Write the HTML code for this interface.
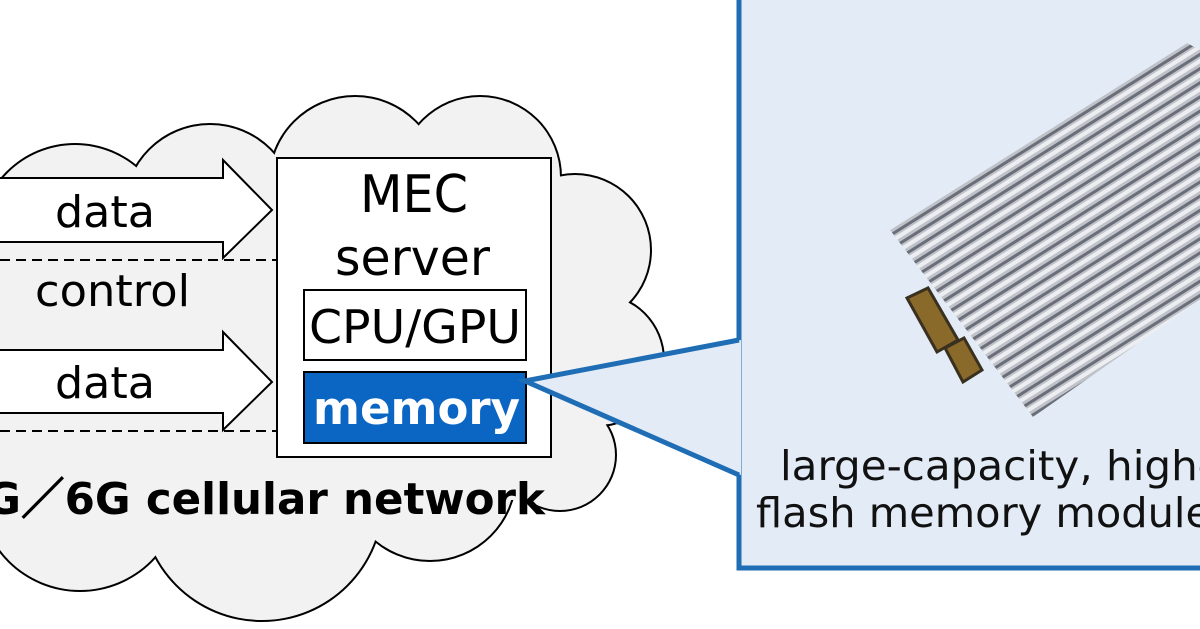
<!DOCTYPE html>
<html><head><meta charset="utf-8"><style>
html,body{margin:0;padding:0;background:#fff;width:1200px;height:629px;overflow:hidden}
svg{display:block}
text{font-family:"DejaVu Sans","Liberation Sans",sans-serif}
</style></head><body>
<svg width="1200" height="629" viewBox="0 0 1200 629" xmlns="http://www.w3.org/2000/svg">
<defs>
<pattern id="st" width="12" height="12" patternUnits="userSpaceOnUse" patternTransform="rotate(-32.2)">
<rect width="12" height="12" fill="#bfc2c9"/>
<rect y="0" width="12" height="3" fill="#6a6e78"/>
<rect y="5" width="12" height="4" fill="#eceef2"/>
</pattern>
<clipPath id="mc"><polygon points="890,230 1187,43 1200,50 1200,300 1033,417"/></clipPath>
</defs>
<g fill="#000">
<circle cx="75" cy="240" r="97"/><circle cx="210" cy="210" r="87"/><circle cx="355" cy="182" r="87"/>
<circle cx="480" cy="177" r="82"/><circle cx="575" cy="250" r="77"/><circle cx="598" cy="360" r="67"/>
<circle cx="560" cy="455" r="57"/><circle cx="430" cy="475" r="87"/><circle cx="262" cy="500" r="122"/>
<circle cx="80" cy="490" r="102"/><circle cx="0" cy="380" r="110"/>
</g>
<g fill="#f2f2f2">
<circle cx="75" cy="240" r="95"/><circle cx="210" cy="210" r="85"/><circle cx="355" cy="182" r="85"/>
<circle cx="480" cy="177" r="80"/><circle cx="575" cy="250" r="75"/><circle cx="598" cy="360" r="65"/>
<circle cx="560" cy="455" r="55"/><circle cx="430" cy="475" r="85"/><circle cx="262" cy="500" r="120"/>
<circle cx="80" cy="490" r="100"/><circle cx="0" cy="380" r="108"/>
<rect x="0" y="200" width="560" height="300"/>
</g>
<polygon points="-5,178 223,178 223,160 272,210 223,258 223,242 -5,242" fill="#fff" stroke="#000" stroke-width="2"/>
<polygon points="-5,350 223,350 223,332 272,382 223,430 223,413 -5,413" fill="#fff" stroke="#000" stroke-width="2"/>
<line x1="0" y1="260" x2="277" y2="260" stroke="#000" stroke-width="2" stroke-dasharray="10,6"/>
<line x1="0" y1="431" x2="277" y2="431" stroke="#000" stroke-width="2" stroke-dasharray="10,6"/>
<text x="55" y="227" font-size="44" textLength="100" lengthAdjust="spacingAndGlyphs">data</text>
<text x="35" y="306" font-size="44" textLength="155" lengthAdjust="spacingAndGlyphs">control</text>
<text x="55" y="398" font-size="44" textLength="100" lengthAdjust="spacingAndGlyphs">data</text>
<rect x="277" y="158" width="274" height="299" fill="#fff" stroke="#000" stroke-width="2"/>
<text x="360" y="212" font-size="52" textLength="108" lengthAdjust="spacingAndGlyphs">MEC</text>
<text x="335" y="275" font-size="50" textLength="155" lengthAdjust="spacingAndGlyphs">server</text>
<rect x="304" y="290" width="222" height="70" fill="#fff" stroke="#000" stroke-width="2"/>
<text x="309" y="343" font-size="46" textLength="212" lengthAdjust="spacingAndGlyphs">CPU/GPU</text>
<rect x="304" y="372" width="222" height="71" fill="#0a66c2" stroke="#000" stroke-width="2"/>
<text x="313" y="424" font-size="45" font-weight="bold" fill="#fff" textLength="207" lengthAdjust="spacingAndGlyphs">memory</text>
<text x="-45" y="514" font-size="44" font-weight="bold" font-family="'Liberation Sans','Noto Sans CJK JP',sans-serif" textLength="590" lengthAdjust="spacingAndGlyphs">5G／6G cellular network</text>
<rect x="739" y="-4" width="470" height="572" fill="#e3ecf6" stroke="#1f6db5" stroke-width="5"/>
<polygon points="525,381 741,340 741,475" fill="#e3ecf6"/>
<polyline points="739,340 525,381 739,475" fill="none" stroke="#1f6db5" stroke-width="5"/>
<g clip-path="url(#mc)"><rect x="880" y="30" width="330" height="400" fill="url(#st)"/></g>
<polygon points="907,298 928,288 958,340 937,352" fill="#8a6a2a" stroke="#3a3020" stroke-width="3"/>
<polygon points="945,348 964,338 982,370 963,382" fill="#8a6a2a" stroke="#3a3020" stroke-width="3"/>
<text x="780" y="480" font-size="41" fill="#111" textLength="560" lengthAdjust="spacingAndGlyphs">large-capacity, high-speed</text>
<text x="756" y="527" font-size="41" fill="#111" textLength="455" lengthAdjust="spacingAndGlyphs">flash memory module</text>
</svg>
</body></html>
